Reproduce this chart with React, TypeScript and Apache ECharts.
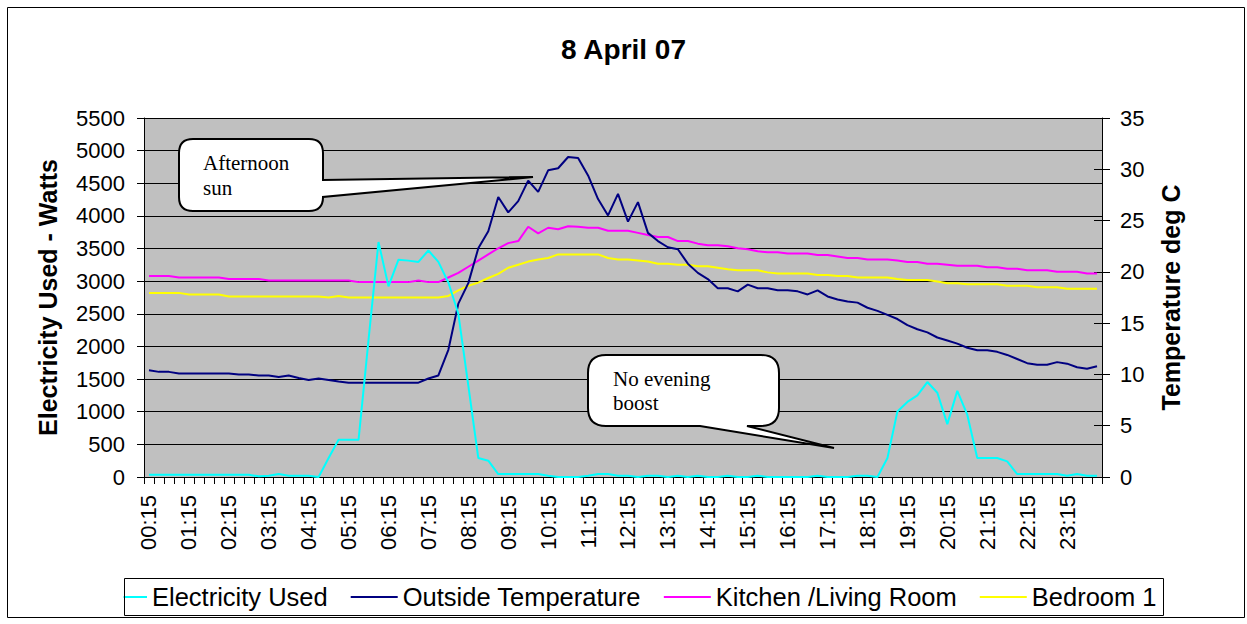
import React, { useEffect, useRef } from "react";
import * as echarts from "echarts";

const times = [
  "00:15","00:30","00:45","01:00","01:15","01:30","01:45","02:00",
  "02:15","02:30","02:45","03:00","03:15","03:30","03:45","04:00",
  "04:15","04:30","04:45","05:00","05:15","05:30","05:45","06:00",
  "06:15","06:30","06:45","07:00","07:15","07:30","07:45","08:00",
  "08:15","08:30","08:45","09:00","09:15","09:30","09:45","10:00",
  "10:15","10:30","10:45","11:00","11:15","11:30","11:45","12:00",
  "12:15","12:30","12:45","13:00","13:15","13:30","13:45","14:00",
  "14:15","14:30","14:45","15:00","15:15","15:30","15:45","16:00",
  "16:15","16:30","16:45","17:00","17:15","17:30","17:45","18:00",
  "18:15","18:30","18:45","19:00","19:15","19:30","19:45","20:00",
  "20:15","20:30","20:45","21:00","21:15","21:30","21:45","22:00",
  "22:15","22:30","22:45","23:00","23:15","23:30","23:45","00:00",
];

const electricityUsed = [
  35, 35, 35, 35, 35, 35, 35, 35, 35, 35, 35, 10, 20, 45, 20, 20,
  20, 0, 290, 570, 570, 570, 2100, 3600, 2920, 3330, 3315, 3295, 3470, 3295, 2980, 2500,
  1400, 290, 250, 45, 45, 45, 45, 45, 20, 0, 0, 0, 20, 45, 45, 20,
  20, 0, 20, 20, 0, 20, 0, 20, 0, 0, 20, 0, 0, 20, 0, 0,
  0, 0, 0, 20, 0, 0, 0, 20, 20, 0, 290, 1005, 1150, 1250, 1455, 1290,
  810, 1320, 955, 290, 290, 290, 240, 45, 45, 45, 45, 45, 20, 45, 20, 20,
];

const outsideTemperature = [
  10.4, 10.25, 10.25, 10.1, 10.1, 10.1, 10.1, 10.1, 10.1, 10.0, 10.0, 9.9, 9.9, 9.75, 9.9, 9.65,
  9.45, 9.6, 9.45, 9.3, 9.2, 9.2, 9.2, 9.2, 9.2, 9.2, 9.2, 9.2, 9.6, 9.9, 12.4, 16.9,
  18.9, 22.3, 23.95, 27.3, 25.8, 26.9, 28.9, 27.8, 29.9, 30.1, 31.2, 31.1, 29.4, 27.1, 25.5, 27.6,
  24.9, 26.8, 23.8, 23.0, 22.4, 22.2, 20.8, 19.9, 19.3, 18.4, 18.4, 18.1, 18.75, 18.4, 18.4, 18.2,
  18.2, 18.1, 17.8, 18.2, 17.6, 17.3, 17.1, 17.0, 16.5, 16.2, 15.8, 15.4, 14.8, 14.4, 14.1, 13.6,
  13.3, 13.0, 12.6, 12.35, 12.35, 12.2, 11.9, 11.5, 11.1, 10.95, 10.95, 11.2, 11.05, 10.7, 10.55, 10.8,
];

const kitchenLivingRoom = [
  19.6, 19.6, 19.6, 19.45, 19.45, 19.45, 19.45, 19.45, 19.3, 19.3, 19.3, 19.3, 19.15, 19.15, 19.15, 19.15,
  19.15, 19.15, 19.15, 19.15, 19.15, 19.0, 19.0, 19.0, 19.0, 19.0, 19.0, 19.15, 19.0, 19.0, 19.45, 19.9,
  20.5, 21.1, 21.7, 22.3, 22.8, 23.0, 24.4, 23.75, 24.3, 24.15, 24.45, 24.4, 24.3, 24.3, 24.0, 24.0,
  24.0, 23.8, 23.6, 23.4, 23.4, 23.0, 23.0, 22.75, 22.6, 22.6, 22.5, 22.3, 22.2, 22.0, 21.9, 21.9,
  21.8, 21.8, 21.8, 21.65, 21.65, 21.5, 21.35, 21.35, 21.2, 21.2, 21.2, 21.1, 20.95, 20.95, 20.8, 20.8,
  20.7, 20.6, 20.6, 20.6, 20.45, 20.45, 20.3, 20.3, 20.15, 20.15, 20.15, 20.0, 20.0, 20.0, 19.85, 19.85,
];

const bedroom1 = [
  17.95, 17.95, 17.95, 17.95, 17.8, 17.8, 17.8, 17.8, 17.6, 17.6, 17.6, 17.6, 17.6, 17.6, 17.6, 17.6,
  17.6, 17.6, 17.5, 17.65, 17.5, 17.5, 17.5, 17.5, 17.5, 17.5, 17.5, 17.5, 17.5, 17.5, 17.65, 18.2,
  18.65, 18.95, 19.4, 19.8, 20.4, 20.7, 21.0, 21.2, 21.35, 21.7, 21.7, 21.7, 21.7, 21.7, 21.35, 21.2,
  21.2, 21.1, 21.0, 20.8, 20.8, 20.7, 20.7, 20.55, 20.55, 20.4, 20.25, 20.15, 20.15, 20.15, 19.95, 19.85,
  19.85, 19.85, 19.85, 19.7, 19.7, 19.6, 19.6, 19.45, 19.45, 19.45, 19.45, 19.3, 19.2, 19.2, 19.2, 19.05,
  18.9, 18.9, 18.8, 18.8, 18.8, 18.8, 18.65, 18.65, 18.65, 18.5, 18.5, 18.5, 18.35, 18.35, 18.35, 18.35,
];

const seriesNames = ["Electricity Used", "Outside Temperature", "Kitchen /Living Room", "Bedroom 1"];
const seriesColors = ["#00ffff", "#000080", "#ff00ff", "#ffff00"];

const SANS = "'Liberation Sans', Arial, sans-serif";
const SERIF = "'Liberation Serif', 'Times New Roman', serif";

const sunPath =
  "M193 139 H309 Q323 139 323 153 V180 L533 177 L323 197 Q323 211 309 211 H193 Q179 211 179 197 V153 Q179 139 193 139 Z";
const boostPath =
  "M606 355 H761 Q779 355 779 373 V408 Q779 426 761 426 H747 L834 448 L700 426 H606 Q588 426 588 408 V373 Q588 355 606 355 Z";

echarts.graphic.registerShape("calloutSun", echarts.graphic.extendPath(sunPath, {}));
echarts.graphic.registerShape("calloutBoost", echarts.graphic.extendPath(boostPath, {}));

export default function App() {
  const ref = useRef<HTMLDivElement>(null);

  useEffect(() => {
    if (!ref.current) return;
    const chart = echarts.init(ref.current, undefined, { renderer: "svg" });
    const seriesData = [electricityUsed, outsideTemperature, kitchenLivingRoom, bedroom1];
    const option: any = {
      animation: false,
      backgroundColor: "#ffffff",
      textStyle: { fontFamily: SANS, color: "#000" },
      title: {
        text: "8 April 07",
        left: "center",
        top: 30,
        textStyle: { fontSize: 28, fontWeight: "bold", color: "#000", fontFamily: SANS },
      },
      grid: {
        left: 144,
        right: 145,
        top: 118,
        bottom: 147,
        show: true,
        backgroundColor: "#c0c0c0",
        borderWidth: 0,
        containLabel: false,
      },
      legend: {
        show: true,
        left: 100,
        top: 584,
        padding: 0,
        itemGap: 23,
        itemWidth: 47,
        itemHeight: 2,
        icon: "rect",
        textStyle: { fontSize: 25.5, color: "#000", fontFamily: SANS },
        data: seriesNames,
      },
      xAxis: {
        type: "category",
        data: times,
        boundaryGap: true,
        axisLine: { show: true, lineStyle: { color: "#000", width: 1 } },
        axisTick: { show: true, interval: 0, length: 7, lineStyle: { color: "#000" } },
        axisLabel: { interval: 3, rotate: 90, fontSize: 22, color: "#000", margin: 18, fontFamily: SANS },
        splitLine: { show: false },
      },
      yAxis: [
        {
          type: "value",
          min: 0,
          max: 5500,
          interval: 500,
          position: "left",
          name: "Electricity Used - Watts",
          nameLocation: "middle",
          nameRotate: 90,
          nameGap: 84,
          nameTextStyle: { fontSize: 25, fontWeight: "bold", color: "#000", fontFamily: SANS },
          axisLine: { show: true, lineStyle: { color: "#000", width: 1 } },
          axisTick: { show: true, length: 7, lineStyle: { color: "#000" } },
          axisLabel: {
            fontSize: 22,
            color: "#000",
            margin: 19,
            fontFamily: SANS,
            formatter: (v: number) => String(v),
          },
          splitLine: { show: true, lineStyle: { color: "#000", width: 1 } },
        },
        {
          type: "value",
          min: 0,
          max: 35,
          interval: 5,
          position: "right",
          name: "Temperature deg C",
          nameLocation: "middle",
          nameRotate: 90,
          nameGap: 56,
          nameTextStyle: { fontSize: 25, fontWeight: "bold", color: "#000", fontFamily: SANS },
          axisLine: { show: true, lineStyle: { color: "#000", width: 1 } },
          axisTick: { show: true, length: 8, lineStyle: { color: "#000" } },
          axisLabel: { fontSize: 22, color: "#000", margin: 18, fontFamily: SANS, formatter: (v: number) => String(v) },
          splitLine: { show: false },
        },
        {
          type: "value",
          min: 0,
          max: 35,
          interval: 5,
          position: "right",
          axisLine: { show: false },
          axisTick: { show: true, inside: true, length: 8, lineStyle: { color: "#000" } },
          axisLabel: { show: false },
          splitLine: { show: false },
        },
      ],
      series: seriesNames.map((name, idx) => ({
        name,
        type: "line",
        data: seriesData[idx],
        yAxisIndex: idx === 0 ? 0 : 1,
        showSymbol: false,
        symbol: "none",
        lineStyle: { color: seriesColors[idx], width: 2 },
        itemStyle: { color: seriesColors[idx] },
        z: 2 + (3 - idx),
      })),
      graphic: [
        {
          type: "rect",
          z: 100,
          silent: true,
          shape: { x: 7.5, y: 7.5, width: 1237, height: 610 },
          style: { fill: "none", stroke: "#000", lineWidth: 1 },
        },
        {
          type: "rect",
          z: 100,
          silent: true,
          shape: { x: 90, y: 579, width: 33.5, height: 35 },
          style: { fill: "#fff", stroke: "none" },
        },
        {
          type: "rect",
          z: 101,
          silent: true,
          shape: { x: 124.5, y: 578.5, width: 1039, height: 37 },
          style: { fill: "none", stroke: "#000", lineWidth: 1 },
        },
        {
          type: "calloutSun",
          x: 0,
          y: 0,
          scaleX: 1,
          scaleY: 1,
          z: 100,
          silent: true,
          style: { fill: "#fff", stroke: "#000", lineWidth: 2 },
        },
        {
          type: "calloutBoost",
          x: 0,
          y: 0,
          scaleX: 1,
          scaleY: 1,
          z: 100,
          silent: true,
          style: { fill: "#fff", stroke: "#000", lineWidth: 2 },
        },
        {
          type: "text",
          z: 102,
          x: 203,
          y: 163,
          silent: true,
          style: { text: "Afternoon", fontSize: 21, fontFamily: SERIF, fill: "#000", verticalAlign: "middle", align: "left" },
        },
        {
          type: "text",
          z: 102,
          x: 203,
          y: 188,
          silent: true,
          style: { text: "sun", fontSize: 21, fontFamily: SERIF, fill: "#000", verticalAlign: "middle", align: "left" },
        },
        {
          type: "text",
          z: 102,
          x: 613,
          y: 379,
          silent: true,
          style: { text: "No evening", fontSize: 21, fontFamily: SERIF, fill: "#000", verticalAlign: "middle", align: "left" },
        },
        {
          type: "text",
          z: 102,
          x: 613,
          y: 403,
          silent: true,
          style: { text: "boost", fontSize: 21, fontFamily: SERIF, fill: "#000", verticalAlign: "middle", align: "left" },
        },
      ],
    };
    chart.setOption(option);
    return () => chart.dispose();
  }, []);

  return (
    <div
      ref={ref}
      style={{ position: "absolute", left: 0, top: 0, width: 1247, height: 624 }}
    />
  );
}
